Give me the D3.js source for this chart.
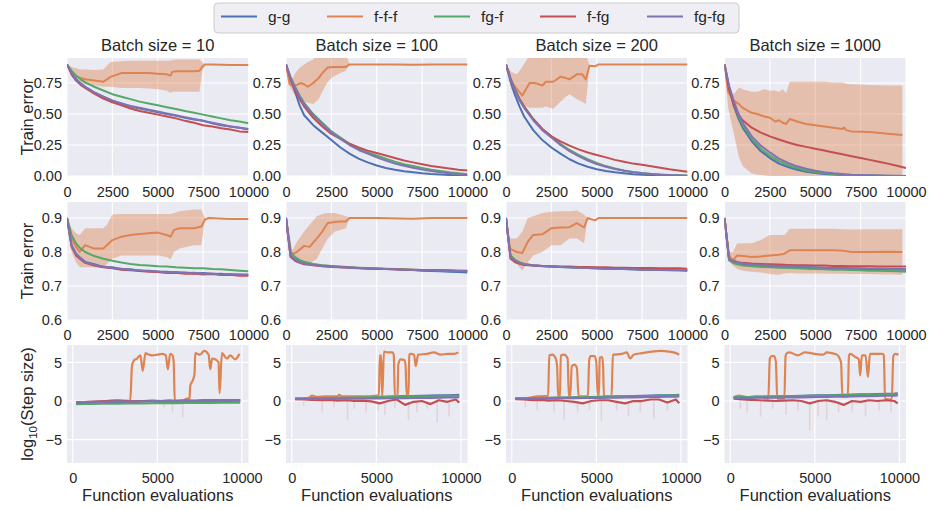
<!DOCTYPE html>
<html><head><meta charset="utf-8">
<script src="https://cdn.jsdelivr.net/npm/d3@7"></script>
<style>
body{margin:0;background:#fff}
svg text{font-family:"Liberation Sans",Arial,sans-serif;fill:#262626}
</style>
</head><body>
<svg id="chart" width="929" height="510"></svg>
<script>
// ---------------- data ----------------
const seriesNames = ["g-g","f-f-f","fg-f","f-fg","fg-fg"];
const seriesColors = ["#4C72B0","#DD8452","#55A868","#C44E52","#8172B3"];
const batchTitles = ["Batch size = 10","Batch size = 100","Batch size = 200","Batch size = 1000"];
const trainXTicks = [0,2500,5000,7500,10000];
const topYTicks = [0,0.25,0.5,0.75];
const midYTicks = [0.6,0.7,0.8,0.9];
const stepXTicks = [0,5000,10000];
const stepYTicks = [-5,0,5];

const evalX = [0,250,500,750,1000,1500,2000,2500,3000,3500,4000,4500,5000,5500,6000,6500,7000,7500,8000,8500,9000,9500,10000];

// Row 1: train error (top)
const e1b10_gg   = [0.90,0.83,0.78,0.745,0.72,0.675,0.64,0.605,0.585,0.56,0.545,0.53,0.515,0.50,0.485,0.47,0.455,0.445,0.425,0.41,0.40,0.39,0.38];
const e1b10_fgf  = [0.90,0.85,0.81,0.78,0.755,0.72,0.69,0.66,0.64,0.62,0.60,0.585,0.57,0.555,0.54,0.525,0.51,0.495,0.48,0.465,0.45,0.44,0.425];
const e1b10_ffg  = [0.90,0.82,0.77,0.735,0.71,0.665,0.625,0.595,0.57,0.545,0.525,0.51,0.495,0.48,0.465,0.445,0.43,0.41,0.40,0.385,0.375,0.36,0.355];
const e1b10_fgfg = [0.90,0.83,0.78,0.745,0.72,0.675,0.64,0.61,0.585,0.565,0.55,0.535,0.52,0.505,0.49,0.475,0.46,0.445,0.43,0.415,0.40,0.39,0.375];
const e1b10_fffX  = [0,250,500,750,1000,1500,2000,2200,2400,3000,3500,4000,4500,5000,5500,5700,5800,6000,6500,7000,7300,7450,7600,8000,9000,10000];
const e1b10_fff   = [0.90,0.83,0.80,0.79,0.78,0.77,0.76,0.78,0.80,0.83,0.83,0.83,0.83,0.825,0.82,0.81,0.84,0.845,0.845,0.845,0.85,0.88,0.90,0.90,0.895,0.895];
const e1b10_fffHi = [0.90,0.88,0.87,0.86,0.86,0.855,0.86,0.89,0.92,0.925,0.93,0.93,0.93,0.93,0.93,0.93,0.935,0.94,0.94,0.94,0.94,0.92,0.90,0.90,0.895,0.895];
const e1b10_fffLo = [0.90,0.80,0.77,0.75,0.74,0.73,0.72,0.72,0.72,0.71,0.71,0.71,0.705,0.70,0.69,0.67,0.68,0.68,0.68,0.68,0.68,0.84,0.90,0.90,0.895,0.895];

const e1b100_gg   = [0.90,0.78,0.68,0.57,0.49,0.41,0.35,0.29,0.23,0.18,0.14,0.11,0.085,0.065,0.05,0.038,0.03,0.022,0.016,0.012,0.008,0.005,0.003];
const e1b100_fgf  = [0.90,0.80,0.72,0.65,0.59,0.50,0.43,0.36,0.31,0.26,0.22,0.19,0.165,0.14,0.115,0.095,0.08,0.065,0.05,0.04,0.03,0.022,0.015];
const e1b100_ffg  = [0.90,0.78,0.69,0.62,0.56,0.47,0.40,0.34,0.30,0.26,0.23,0.205,0.185,0.165,0.145,0.125,0.11,0.095,0.08,0.07,0.06,0.05,0.045];
const e1b100_fgfg = [0.90,0.79,0.71,0.64,0.58,0.49,0.42,0.35,0.30,0.25,0.21,0.18,0.15,0.125,0.10,0.082,0.066,0.052,0.04,0.03,0.022,0.015,0.01];
const e1b100_fffX  = [0,200,400,600,800,1000,1200,1500,1800,2000,2300,2600,3000,3300,3500,4000,5000,6000,7000,8000,9000,10000];
const e1b100_fff   = [0.90,0.74,0.73,0.735,0.75,0.74,0.72,0.75,0.79,0.83,0.875,0.88,0.88,0.88,0.90,0.90,0.90,0.90,0.898,0.90,0.90,0.90];
const e1b100_fffHi = [0.90,0.76,0.80,0.85,0.88,0.90,0.92,0.94,0.99,0.99,0.99,0.99,0.99,0.99,0.90,0.90,0.90,0.90,0.898,0.90,0.90,0.90];
const e1b100_fffLo = [0.90,0.72,0.67,0.63,0.61,0.60,0.59,0.58,0.62,0.68,0.76,0.80,0.83,0.85,0.90,0.90,0.90,0.90,0.898,0.90,0.90,0.90];

const e1b200_gg   = [0.90,0.76,0.65,0.56,0.48,0.37,0.29,0.23,0.18,0.135,0.10,0.075,0.055,0.04,0.03,0.022,0.015,0.01,0.007,0.005,0.003,0.002,0.001];
const e1b200_fgf  = [0.90,0.79,0.70,0.62,0.56,0.46,0.38,0.32,0.26,0.21,0.17,0.135,0.105,0.08,0.06,0.045,0.033,0.024,0.017,0.012,0.008,0.006,0.004];
const e1b200_ffg  = [0.90,0.78,0.69,0.62,0.56,0.46,0.38,0.32,0.28,0.245,0.215,0.19,0.17,0.15,0.13,0.115,0.10,0.09,0.078,0.067,0.055,0.045,0.035];
const e1b200_fgfg = [0.90,0.78,0.69,0.61,0.55,0.45,0.37,0.31,0.25,0.20,0.16,0.125,0.097,0.075,0.056,0.042,0.031,0.022,0.016,0.011,0.008,0.005,0.003];
const e1b200_fffX  = [0,300,600,900,1100,1300,1600,2000,2200,2600,3000,3300,3500,3900,4200,4400,4600,4900,5100,6000,7000,8000,9000,10000];
const e1b200_fff   = [0.90,0.76,0.70,0.65,0.70,0.75,0.75,0.73,0.76,0.76,0.80,0.79,0.78,0.82,0.82,0.78,0.89,0.885,0.90,0.90,0.90,0.90,0.90,0.90];
const e1b200_fffHi = [0.90,0.84,0.82,0.88,0.93,0.97,0.99,0.99,0.99,0.99,0.99,0.99,0.99,0.99,0.99,0.99,0.89,0.885,0.90,0.90,0.90,0.90,0.90,0.90];
const e1b200_fffLo = [0.90,0.70,0.62,0.57,0.56,0.55,0.55,0.55,0.56,0.54,0.60,0.64,0.66,0.62,0.60,0.58,0.89,0.885,0.90,0.90,0.90,0.90,0.90,0.90];

const e1b1000_gg   = [0.90,0.71,0.57,0.47,0.39,0.28,0.20,0.145,0.10,0.072,0.05,0.035,0.025,0.017,0.012,0.008,0.006,0.004,0.003,0.002,0.001,0.001,0.0];
const e1b1000_fgf  = [0.90,0.72,0.59,0.49,0.41,0.30,0.22,0.165,0.12,0.087,0.062,0.045,0.032,0.023,0.016,0.011,0.008,0.005,0.004,0.003,0.002,0.001,0.001];
const e1b1000_ffg  = [0.90,0.70,0.58,0.50,0.45,0.39,0.35,0.32,0.295,0.27,0.25,0.235,0.22,0.205,0.19,0.175,0.16,0.145,0.13,0.115,0.10,0.083,0.065];
const e1b1000_fgfg = [0.90,0.73,0.61,0.51,0.43,0.32,0.245,0.19,0.14,0.105,0.078,0.058,0.043,0.031,0.022,0.016,0.011,0.008,0.006,0.004,0.003,0.002,0.001];
const e1b1000_fffX  = [0,200,500,800,1000,1500,1800,2200,2500,2800,3000,3200,3400,3600,4000,4500,5000,5500,6000,6500,6600,6700,7000,8000,9000,9800];
const e1b1000_fff   = [0.90,0.68,0.61,0.58,0.55,0.51,0.50,0.48,0.47,0.44,0.45,0.43,0.42,0.46,0.44,0.42,0.41,0.40,0.39,0.38,0.39,0.37,0.36,0.355,0.34,0.33];
const e1b1000_fffHi = [0.90,0.70,0.66,0.715,0.70,0.68,0.68,0.70,0.69,0.69,0.68,0.70,0.67,0.76,0.76,0.76,0.76,0.76,0.755,0.755,0.75,0.745,0.74,0.735,0.73,0.73];
const e1b1000_fffLo = [0.90,0.55,0.35,0.15,0.08,0.02,0.01,0.005,0,0,0,0,0,0,0,0,0,0,0,0,0,0,0,0,0,0];

// Row 2: train error (middle)
const e2b10_gg   = [0.90,0.82,0.795,0.782,0.771,0.764,0.756,0.755,0.749,0.749,0.745,0.745,0.742,0.742,0.739,0.740,0.737,0.738,0.735,0.736,0.733,0.734,0.732];
const e2b10_fgf  = [0.90,0.85,0.825,0.81,0.80,0.788,0.78,0.774,0.769,0.765,0.762,0.76,0.758,0.757,0.755,0.754,0.752,0.752,0.75,0.749,0.747,0.745,0.743];
const e2b10_ffg  = [0.90,0.815,0.79,0.778,0.768,0.76,0.755,0.752,0.748,0.746,0.744,0.742,0.741,0.738,0.739,0.736,0.737,0.734,0.735,0.732,0.733,0.73,0.73];
const e2b10_fgfg = [0.90,0.82,0.795,0.78,0.77,0.762,0.757,0.753,0.751,0.747,0.746,0.743,0.743,0.740,0.741,0.738,0.739,0.736,0.737,0.734,0.735,0.733,0.734];
const e2b10_fffX  = [0,250,500,700,1000,1500,2000,2200,2500,3000,3500,4000,4500,5000,5500,5700,5900,6200,7000,7400,7600,7800,9000,10000];
const e2b10_fff   = [0.90,0.84,0.815,0.80,0.82,0.81,0.81,0.82,0.835,0.845,0.85,0.853,0.855,0.857,0.85,0.845,0.865,0.87,0.87,0.875,0.895,0.90,0.897,0.897];
const e2b10_fffHi = [0.90,0.87,0.855,0.85,0.87,0.87,0.87,0.88,0.91,0.912,0.912,0.912,0.912,0.912,0.912,0.912,0.915,0.92,0.925,0.925,0.90,0.90,0.897,0.897];
const e2b10_fffLo = [0.90,0.80,0.77,0.755,0.755,0.755,0.753,0.765,0.78,0.79,0.79,0.79,0.79,0.79,0.785,0.778,0.80,0.81,0.82,0.82,0.895,0.90,0.897,0.897];

const e2b100_gg   = [0.90,0.79,0.778,0.771,0.767,0.763,0.760,0.758,0.756,0.755,0.753,0.752,0.751,0.750,0.749,0.748,0.747,0.745,0.744,0.743,0.742,0.741,0.740];
const e2b100_fgf  = [0.90,0.80,0.785,0.777,0.771,0.765,0.761,0.759,0.757,0.755,0.754,0.753,0.752,0.751,0.75,0.749,0.748,0.747,0.747,0.746,0.745,0.745,0.744];
const e2b100_ffg  = [0.90,0.785,0.774,0.768,0.764,0.761,0.758,0.756,0.755,0.754,0.752,0.751,0.75,0.75,0.749,0.748,0.748,0.747,0.747,0.746,0.746,0.745,0.745];
const e2b100_fgfg = [0.90,0.79,0.777,0.77,0.766,0.762,0.759,0.757,0.755,0.754,0.753,0.752,0.751,0.75,0.749,0.748,0.747,0.746,0.746,0.745,0.744,0.744,0.743];
const e2b100_fffX  = [0,300,600,1000,1300,1700,2000,2300,2700,3000,3300,3500,5000,7000,8000,10000];
const e2b100_fff   = [0.90,0.793,0.80,0.818,0.815,0.84,0.86,0.885,0.888,0.89,0.89,0.90,0.90,0.898,0.90,0.90];
const e2b100_fffHi = [0.90,0.80,0.83,0.86,0.88,0.905,0.912,0.915,0.915,0.91,0.905,0.90,0.90,0.898,0.90,0.90];
const e2b100_fffLo = [0.90,0.787,0.775,0.765,0.765,0.78,0.81,0.84,0.86,0.865,0.87,0.90,0.90,0.898,0.90,0.90];

const e2b200_gg   = [0.90,0.785,0.773,0.767,0.763,0.760,0.758,0.757,0.756,0.755,0.754,0.753,0.752,0.751,0.75,0.75,0.749,0.748,0.748,0.747,0.746,0.746,0.745];
const e2b200_fgf  = [0.90,0.79,0.777,0.77,0.765,0.761,0.759,0.757,0.756,0.755,0.754,0.753,0.752,0.751,0.75,0.75,0.749,0.749,0.748,0.748,0.747,0.747,0.746];
const e2b200_ffg  = [0.90,0.78,0.77,0.765,0.762,0.760,0.759,0.758,0.757,0.757,0.756,0.756,0.755,0.755,0.754,0.754,0.753,0.753,0.753,0.752,0.752,0.752,0.751];
const e2b200_fgfg = [0.90,0.785,0.774,0.768,0.764,0.761,0.759,0.757,0.756,0.755,0.754,0.753,0.752,0.751,0.75,0.75,0.749,0.748,0.748,0.747,0.747,0.746,0.746];
const e2b200_fffX  = [0,200,600,900,1200,1500,2000,2500,3000,3500,3900,4300,4500,4900,5100,6000,7000,8000,10000];
const e2b200_fff   = [0.90,0.81,0.80,0.797,0.83,0.85,0.852,0.87,0.872,0.873,0.885,0.872,0.90,0.893,0.90,0.90,0.90,0.90,0.90];
const e2b200_fffHi = [0.90,0.84,0.84,0.86,0.90,0.905,0.915,0.918,0.92,0.92,0.922,0.91,0.90,0.893,0.90,0.90,0.90,0.90,0.90];
const e2b200_fffLo = [0.90,0.79,0.765,0.745,0.77,0.79,0.80,0.82,0.82,0.84,0.84,0.826,0.90,0.893,0.90,0.90,0.90,0.90,0.90];

const e2b1000_gg   = [0.90,0.78,0.772,0.768,0.765,0.762,0.760,0.759,0.758,0.757,0.756,0.755,0.754,0.753,0.752,0.752,0.751,0.75,0.75,0.749,0.749,0.748,0.748];
const e2b1000_fgf  = [0.90,0.775,0.767,0.763,0.76,0.758,0.756,0.755,0.754,0.753,0.752,0.751,0.75,0.749,0.748,0.748,0.747,0.746,0.745,0.745,0.744,0.743,0.742];
const e2b1000_ffg  = [0.90,0.78,0.774,0.77,0.768,0.766,0.765,0.764,0.763,0.762,0.761,0.761,0.76,0.76,0.759,0.759,0.758,0.758,0.758,0.757,0.757,0.757,0.757];
const e2b1000_fgfg = [0.90,0.78,0.773,0.769,0.766,0.763,0.761,0.76,0.759,0.758,0.757,0.756,0.755,0.754,0.753,0.753,0.752,0.752,0.751,0.751,0.75,0.75,0.75];
const e2b1000_fffX  = [0,250,450,700,1000,1500,2000,2500,3000,3300,3600,4000,5000,6000,6500,7000,8000,9000,9800];
const e2b1000_fff   = [0.90,0.79,0.775,0.79,0.788,0.785,0.787,0.79,0.792,0.795,0.805,0.805,0.805,0.805,0.804,0.80,0.80,0.801,0.80];
const e2b1000_fffHi = [0.90,0.80,0.80,0.825,0.826,0.826,0.835,0.85,0.85,0.85,0.868,0.868,0.868,0.868,0.867,0.866,0.867,0.867,0.867];
const e2b1000_fffLo = [0.90,0.775,0.76,0.75,0.745,0.742,0.74,0.735,0.733,0.737,0.738,0.737,0.737,0.736,0.736,0.735,0.735,0.734,0.733];

// Row 3: log10(step size)
const stepX = [200,700,1200,1700,2200,2700,3200,3700,4200,4700,5200,5700,6200,6700,7200,7700,8200,8700,9200,9700,9900];

const s10_gg   = [-0.2,-0.18,-0.15,-0.12,-0.1,-0.08,-0.1,-0.05,-0.03,0,-0.02,0.02,0.03,0.05,0.03,0.06,0.08,0.07,0.1,0.1,0.1];
const s10_fgf  = [-0.4,-0.38,-0.36,-0.35,-0.34,-0.33,-0.32,-0.31,-0.3,-0.29,-0.28,-0.27,-0.26,-0.25,-0.24,-0.23,-0.23,-0.22,-0.21,-0.2,-0.2];
const s10_ffg  = [-0.2,-0.15,-0.1,-0.05,0,0.05,0.02,-0.05,0,0.05,0,0.05,0,0.05,0,0.08,0.05,0.1,0.05,0.1,0.08];
const s10_fgfg = [-0.15,-0.13,-0.1,-0.1,-0.08,-0.05,-0.06,-0.05,-0.03,-0.02,-0.02,0,0,0.02,0.02,0.03,0.03,0.04,0.05,0.05,0.05];
const s10_fffX = [200,1000,2000,2500,3000,3400,3500,3600,3800,4000,4140,4300,4400,4700,5000,5300,5500,5620,5760,5900,5970,6030,6500,6750,6900,6950,7100,7200,7240,7530,7770,8030,8130,8240,8420,8620,8680,8820,9110,9310,9600,9860];
const s10_fff  = [-0.2,-0.1,0,0.1,0,0,4.5,5.2,5.5,5.9,3.9,6.2,6.1,5.9,6.0,6.1,5.9,4.1,6.1,5.9,5.0,0.1,0.05,0.3,0.3,2.0,2.7,3.5,6.2,6.0,6.5,6.0,4.1,5.5,5.4,5.0,1.0,6.2,5.5,5.9,5.4,6.1];
const s10_dipX = [5400,5900,6500];
const s10_dip  = [-0.8,-1.5,-2.1];

const s100_gg   = [0.3,0.32,0.34,0.37,0.4,0.42,0.45,0.47,0.5,0.53,0.55,0.58,0.6,0.63,0.65,0.68,0.7,0.72,0.75,0.78,0.8];
const s100_fgf  = [0.3,0.32,0.34,0.36,0.38,0.4,0.42,0.44,0.46,0.48,0.5,0.52,0.54,0.56,0.58,0.6,0.62,0.64,0.66,0.68,0.7];
const s100_ffg  = [0.25,0.2,0.15,0.1,0.15,0.05,0.1,0.0,0.05,-0.05,-0.3,0.0,0.2,-0.5,-0.1,0,-0.4,0.1,-0.1,0.2,-0.2];
const s100_fgfg = [0.25,0.26,0.27,0.28,0.29,0.3,0.31,0.32,0.33,0.34,0.35,0.36,0.37,0.38,0.39,0.4,0.42,0.44,0.46,0.48,0.5];
const s100_fffX = [200,1000,1200,1500,2000,2700,2800,3000,3500,4500,5000,5150,5210,5280,5350,5450,5650,5950,6030,6100,6250,6300,6450,6650,6720,6800,6900,6950,7050,7230,7330,7470,8000,8400,8800,9200,9600,9850];
const s100_fff  = [0.3,0.4,0.7,0.55,0.6,0.6,0.8,0.6,0.6,0.6,0.7,0.7,5.9,5.9,0.5,6.4,6.3,6.3,6.0,0.5,0.5,4.8,5.4,5.3,4.8,0.7,0.7,6.0,6.1,6.0,4.5,6.0,6.1,6.3,6.0,6.1,6.1,6.3];
const s100_dipX = [700,1800,2500,3300,3700,4400,5100,5500,6100,6900,7400,8000,8600,9300];
const s100_dip  = [-0.6,-1.5,-0.8,-2.5,-1.0,-1.5,-1.2,-1.8,-0.9,-2.5,-1.5,-1.0,-2.8,-2.0];

const s200_gg   = [0.3,0.32,0.35,0.37,0.4,0.43,0.45,0.48,0.5,0.52,0.55,0.57,0.6,0.62,0.65,0.67,0.7,0.72,0.75,0.78,0.8];
const s200_fgf  = [0.3,0.32,0.34,0.36,0.38,0.4,0.42,0.45,0.47,0.49,0.51,0.53,0.55,0.57,0.6,0.62,0.64,0.67,0.7,0.73,0.75];
const s200_ffg  = [0.25,0.2,0.1,0.15,0.05,0.1,0,-0.1,-0.3,0,0.1,0.1,-0.1,-0.3,0,0,0.2,0.2,-0.2,0.2,-0.3];
const s200_fgfg = [0.3,0.31,0.32,0.33,0.34,0.35,0.36,0.38,0.39,0.4,0.42,0.43,0.45,0.46,0.48,0.5,0.52,0.54,0.56,0.58,0.6];
const s200_fffX = [200,1000,1500,2000,2150,2220,2400,2600,2680,2750,2850,2900,3100,3300,3380,3450,3550,3700,3850,3950,4020,4500,4580,4650,4900,5000,5080,5150,5200,5350,5400,5450,5900,5980,6050,6500,6800,7000,7200,7700,8300,8800,9300,9700,9900];
const s200_fff  = [0.3,0.4,0.6,0.65,0.65,5.9,6.0,5.5,4.5,0.5,0.5,5.9,6.0,5.5,0.5,0.5,4.5,4.7,4.3,0.6,0.6,0.6,5.3,5.8,5.8,5.0,0.7,0.7,5.6,5.7,4.5,0.6,0.6,6.0,6.0,6.1,6.3,5.5,6.0,6.2,6.4,6.5,6.4,6.2,6.0];
const s200_dipX = [800,1500,2500,3100,3900,4600,5300,6200,6900,7600,8400,9200];
const s200_dip  = [-0.8,-1.2,-1.5,-2.5,-1.5,-1.2,-2.6,-1.2,-2.0,-1.5,-2.3,-1.2];

const s1000_gg   = [0.5,0.5,0.52,0.55,0.57,0.6,0.62,0.65,0.68,0.7,0.72,0.75,0.77,0.8,0.82,0.85,0.88,0.9,0.93,0.97,1.0];
const s1000_fgf  = [0.5,0.5,0.52,0.54,0.56,0.58,0.6,0.62,0.64,0.66,0.68,0.7,0.72,0.74,0.76,0.78,0.8,0.82,0.85,0.88,0.9];
const s1000_ffg  = [0.3,0.2,0.15,0.1,0.05,0,0.05,0.1,0,-0.3,0,0.1,-0.1,-0.5,0,-0.1,0.1,0,0.1,0,-0.3];
const s1000_fgfg = [0.4,0.41,0.42,0.43,0.44,0.45,0.46,0.47,0.48,0.5,0.52,0.54,0.56,0.58,0.6,0.62,0.64,0.66,0.68,0.7,0.72];
const s1000_fffX = [200,500,1000,1500,2100,2250,2340,2450,2600,2700,2780,3200,3270,3350,3500,4000,4400,5000,5500,5700,6000,6300,6550,6630,6950,7020,7100,7400,7600,7680,7780,8000,8140,8260,9000,9080,9150,9550,9640,9750,9950];
const s1000_fff  = [0.5,0.7,0.5,0.6,0.4,0.3,5.5,5.8,5.8,5.0,0.3,0.3,5.8,6.2,6.3,5.9,6.3,6.1,6.0,6.3,6.2,6.0,5.0,0.6,0.6,5.9,6.1,5.7,5.4,3.3,5.9,5.9,3.1,6.1,6.1,5.9,0.3,0.2,5.8,6.1,6.0];
const s1000_dipX = [600,1000,1800,2500,3300,4000,4700,5200,5700,6400,7200,8000,8800,9500];
const s1000_dip  = [-1.0,-1.5,-2.0,-1.0,-1.8,-1.2,-3.8,-2.0,-2.5,-1.5,-1.5,-2.0,-1.2,-1.5];

// ---------------- assemble ----------------
const zip = (xs, ys) => xs.map((x, i) => ({x, y: ys[i]}));
const zipBand = (xs, lo, hi) => xs.map((x, i) => ({x, lo: lo[i], hi: hi[i]}));

function trainPanel(gg, fgf, ffg, fgfg, fx, f, fLo, fHi) {
  return {
    lines: {"g-g": zip(evalX, gg), "fg-f": zip(evalX, fgf), "f-fg": zip(evalX, ffg), "fg-fg": zip(evalX, fgfg), "f-f-f": zip(fx, f)},
    band: zipBand(fx, fLo, fHi)
  };
}
function stepPanel(gg, fgf, ffg, fgfg, fx, f, dx, dy) {
  return {
    lines: {"g-g": zip(stepX, gg), "fg-f": zip(stepX, fgf), "f-fg": zip(stepX, ffg), "fg-fg": zip(stepX, fgfg), "f-f-f": zip(fx, f)},
    dips: zip(dx, dy)
  };
}

const row1 = [
  trainPanel(e1b10_gg, e1b10_fgf, e1b10_ffg, e1b10_fgfg, e1b10_fffX, e1b10_fff, e1b10_fffLo, e1b10_fffHi),
  trainPanel(e1b100_gg, e1b100_fgf, e1b100_ffg, e1b100_fgfg, e1b100_fffX, e1b100_fff, e1b100_fffLo, e1b100_fffHi),
  trainPanel(e1b200_gg, e1b200_fgf, e1b200_ffg, e1b200_fgfg, e1b200_fffX, e1b200_fff, e1b200_fffLo, e1b200_fffHi),
  trainPanel(e1b1000_gg, e1b1000_fgf, e1b1000_ffg, e1b1000_fgfg, e1b1000_fffX, e1b1000_fff, e1b1000_fffLo, e1b1000_fffHi)
];
const row2 = [
  trainPanel(e2b10_gg, e2b10_fgf, e2b10_ffg, e2b10_fgfg, e2b10_fffX, e2b10_fff, e2b10_fffLo, e2b10_fffHi),
  trainPanel(e2b100_gg, e2b100_fgf, e2b100_ffg, e2b100_fgfg, e2b100_fffX, e2b100_fff, e2b100_fffLo, e2b100_fffHi),
  trainPanel(e2b200_gg, e2b200_fgf, e2b200_ffg, e2b200_fgfg, e2b200_fffX, e2b200_fff, e2b200_fffLo, e2b200_fffHi),
  trainPanel(e2b1000_gg, e2b1000_fgf, e2b1000_ffg, e2b1000_fgfg, e2b1000_fffX, e2b1000_fff, e2b1000_fffLo, e2b1000_fffHi)
];
const row3 = [
  stepPanel(s10_gg, s10_fgf, s10_ffg, s10_fgfg, s10_fffX, s10_fff, s10_dipX, s10_dip),
  stepPanel(s100_gg, s100_fgf, s100_ffg, s100_fgfg, s100_fffX, s100_fff, s100_dipX, s100_dip),
  stepPanel(s200_gg, s200_fgf, s200_ffg, s200_fgfg, s200_fffX, s200_fff, s200_dipX, s200_dip),
  stepPanel(s1000_gg, s1000_fgf, s1000_ffg, s1000_fgfg, s1000_fffX, s1000_fff, s1000_dipX, s1000_dip)
];

// ---------------- layout ----------------
const FONT = '"Liberation Sans", Arial, sans-serif';
const panelLeft = [67, 286, 506, 724.5];
const panelW = 181.5;
const rowTop = [58, 202, 345];
const rowBottom = [176, 320, 463];
const rowCfg = [
  {data: row1, xDomain: [0, 10000], yDomain: [0, 0.952], xTicks: trainXTicks, yTicks: topYTicks, yFmt: d3.format(".2f"), lw: 2, pad: 10.5},
  {data: row2, xDomain: [0, 10000], yDomain: [0.6, 0.947], xTicks: trainXTicks, yTicks: midYTicks, yFmt: d3.format(".1f"), lw: 2, pad: 10},
  {data: row3, xDomain: [-340, 10390], yDomain: [-8.02, 7.25], xTicks: stepXTicks, yTicks: stepYTicks, yFmt: d3.format("d"), lw: 2.2, pad: 9.5}
];
const color = d3.scaleOrdinal().domain(seriesNames).range(seriesColors);

const svg = d3.select("#chart");

rowCfg.forEach((rc, r) => {
  rc.data.forEach((pd, c) => {
    const h = rowBottom[r] - rowTop[r];
    const g = svg.append("g").attr("transform", `translate(${panelLeft[c]},${rowTop[r]})`);
    const x = d3.scaleLinear().domain(rc.xDomain).range([0, panelW]);
    const y = d3.scaleLinear().domain(rc.yDomain).range([h, 0]);
    const clipId = `clip-${r}-${c}`;
    g.append("clipPath").attr("id", clipId).append("rect").attr("width", panelW).attr("height", h);
    g.append("rect").attr("width", panelW).attr("height", h).attr("fill", "#EAEAF2");
    g.selectAll(".vg").data(rc.xTicks).join("line")
      .attr("x1", d => x(d)).attr("x2", d => x(d)).attr("y1", 0).attr("y2", h)
      .attr("stroke", "#fff").attr("stroke-width", 1.1);
    g.selectAll(".hg").data(rc.yTicks).join("line")
      .attr("x1", 0).attr("x2", panelW).attr("y1", d => y(d)).attr("y2", d => y(d))
      .attr("stroke", "#fff").attr("stroke-width", 1.1);

    const xa = g.append("g").attr("transform", `translate(0,${h})`)
      .call(d3.axisBottom(x).tickValues(rc.xTicks).tickSize(0).tickPadding(rc.pad).tickFormat(d3.format("d")));
    const ya = g.append("g")
      .call(d3.axisLeft(y).tickValues(rc.yTicks).tickSize(0).tickPadding(5).tickFormat(rc.yFmt));
    [xa, ya].forEach(a => {
      a.select(".domain").remove();
      a.attr("font-family", FONT).attr("font-size", 14.5);
      a.selectAll("text").attr("fill", "#262626");
    });

    const plot = g.append("g").attr("clip-path", `url(#${clipId})`);
    if (pd.band) {
      plot.append("path").datum(pd.band)
        .attr("d", d3.area().x(d => x(d.x)).y0(d => y(d.lo)).y1(d => y(d.hi)))
        .attr("fill", color("f-f-f")).attr("fill-opacity", 0.42);
    }
    if (pd.dips) {
      plot.selectAll(".dip").data(pd.dips).join("line")
        .attr("x1", d => x(d.x)).attr("x2", d => x(d.x))
        .attr("y1", y(0)).attr("y2", d => y(d.y))
        .attr("stroke", color("f-fg")).attr("stroke-opacity", 0.15).attr("stroke-width", 1.6);
    }
    seriesNames.forEach(name => {
      const curve = (r === 2 && name === "f-f-f") ? d3.curveMonotoneX : d3.curveLinear;
      plot.append("path").datum(pd.lines[name])
        .attr("d", d3.line().x(d => x(d.x)).y(d => y(d.y)).curve(curve))
        .attr("fill", "none").attr("stroke", color(name))
        .attr("stroke-width", rc.lw).attr("stroke-linejoin", "round");
    });

    if (r === 0) {
      g.append("text").attr("x", panelW / 2).attr("y", -7).attr("text-anchor", "middle")
        .attr("font-size", 16.5).text(batchTitles[c]);
    }
    if (r === 2) {
      g.append("text").attr("x", panelW / 2).attr("y", 501 - rowTop[2]).attr("text-anchor", "middle")
        .attr("font-size", 16.5).text("Function evaluations");
    }
  });
});

// y labels
[0, 1].forEach(r => {
  svg.append("text").attr("transform", `translate(32.5,${(rowTop[r] + rowBottom[r]) / 2}) rotate(-90)`)
    .attr("text-anchor", "middle").attr("font-size", 16.5).text("Train error");
});
const yl3 = svg.append("text").attr("transform", `translate(32.5,${(rowTop[2] + rowBottom[2]) / 2}) rotate(-90)`)
  .attr("text-anchor", "middle").attr("font-size", 16.5);
yl3.append("tspan").text("log");
yl3.append("tspan").attr("font-size", 11.5).attr("dy", 4).text("10");
yl3.append("tspan").attr("dy", -4).text("(Step size)");

// legend
const leg = svg.append("g");
leg.append("rect").attr("x", 214).attr("y", 3).attr("width", 525).attr("height", 30).attr("rx", 4)
  .attr("fill", "#EEEEF4").attr("stroke", "#CCCCCC").attr("stroke-width", 1);
const legLineX = [221, 327, 434, 540, 647];
seriesNames.forEach((name, i) => {
  leg.append("line").attr("x1", legLineX[i]).attr("x2", legLineX[i] + 36).attr("y1", 16.5).attr("y2", 16.5)
    .attr("stroke", color(name)).attr("stroke-width", 2.2);
  leg.append("text").attr("x", legLineX[i] + 47).attr("y", 22).attr("font-size", 15.5).text(name);
});
</script>
</body></html>
